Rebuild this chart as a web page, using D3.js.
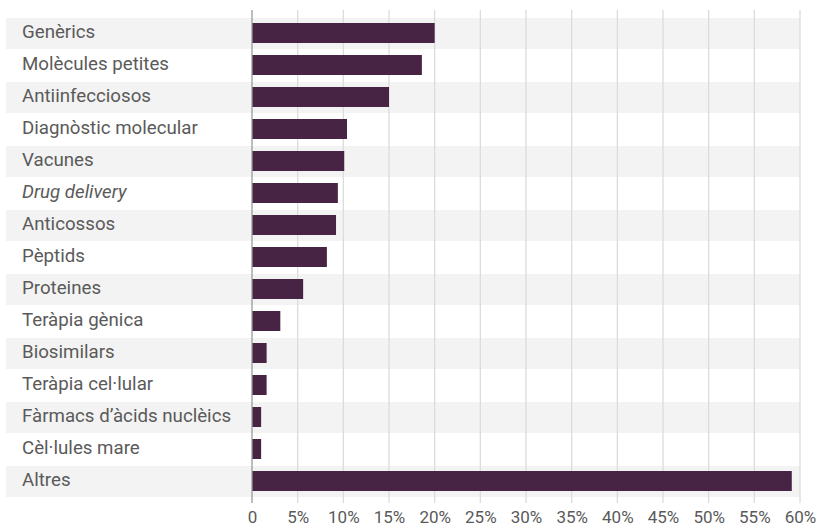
<!DOCTYPE html>
<html>
<head>
<meta charset="utf-8">
<script src="https://cdn.jsdelivr.net/npm/d3@7"></script>
<style>
  html, body { margin: 0; padding: 0; background: #fff; }
  svg { display: block; font-family: Roboto, "Noto Sans", sans-serif; }
</style>
</head>
<body>
<svg id="chart" width="823" height="526"></svg>
<script>
// Share of projects by technology type (%)
const categories = [
  "Genèrics", "Molècules petites", "Antiinfecciosos", "Diagnòstic molecular",
  "Vacunes", "Drug delivery", "Anticossos", "Pèptids", "Proteines",
  "Teràpia gènica", "Biosimilars", "Teràpia cel·lular",
  "Fàrmacs d’àcids nuclèics", "Cèl·lules mare", "Altres"
];
const values = [20.0, 18.6, 15.0, 10.4, 10.1, 9.4, 9.2, 8.2, 5.6, 3.1, 1.6, 1.6, 1.0, 1.0, 59.1];
const italicCategories = ["Drug delivery"];
const tickValues = [0, 5, 10, 15, 20, 25, 30, 35, 40, 45, 50, 55, 60];
const tickLabels = ["0", "5%", "10%", "15%", "20%", "25%", "30%", "35%", "40%", "45%", "50%", "55%", "60%"];

const svg = d3.select("#chart");
const plotLeft = 252, plotRight = 800, plotTop = 18, plotBottom = 498;

const x = d3.scaleLinear().domain([0, 60]).range([plotLeft, plotRight]);
const yRow = d3.scaleBand().domain(categories).range([plotTop, plotBottom]).padding(0);
const yBar = d3.scaleBand().domain(categories).range([plotTop - 1, plotBottom - 1])
  .paddingInner(0.375).paddingOuter(0.1875);

// alternating row bands
svg.append("g")
  .selectAll("rect")
  .data(categories.filter((d, i) => i % 2 === 0))
  .join("rect")
  .attr("x", 6)
  .attr("y", d => yRow(d))
  .attr("width", plotRight - 6)
  .attr("height", yRow.bandwidth() - 1)
  .attr("fill", "#f3f3f3");

// vertical gridlines
svg.append("g")
  .selectAll("line")
  .data(tickValues.filter(v => v > 0))
  .join("line")
  .attr("x1", d => x(d)).attr("x2", d => x(d))
  .attr("y1", 10).attr("y2", 503)
  .attr("stroke", "#dcdcdc")
  .attr("stroke-width", 1.3);

// bars
svg.append("g")
  .selectAll("rect")
  .data(categories)
  .join("rect")
  .attr("x", x(0))
  .attr("y", d => yBar(d))
  .attr("width", (d, i) => x(values[i]) - x(0))
  .attr("height", yBar.bandwidth())
  .attr("fill", "#482444");

// zero baseline
svg.append("line")
  .attr("x1", x(0)).attr("x2", x(0))
  .attr("y1", 10).attr("y2", 503)
  .attr("stroke", "#9a9a9a")
  .attr("stroke-width", 1.3);

// category labels
svg.append("g")
  .selectAll("text")
  .data(categories)
  .join("text")
  .attr("x", 22)
  .attr("y", d => yRow(d) + yRow.bandwidth() / 2 - 3)
  .attr("dy", "0.35em")
  .attr("font-size", 18.7)
  .attr("fill", "#5a5a5a")
  .attr("font-style", d => italicCategories.includes(d) ? "italic" : "normal")
  .text(d => d);

// x axis tick labels
const xAxis = d3.axisBottom(x)
  .tickValues(tickValues)
  .tickFormat((d, i) => tickLabels[i])
  .tickSize(0)
  .tickPadding(0);
const gx = svg.append("g")
  .attr("transform", `translate(0, ${511})`)
  .call(xAxis);
gx.select(".domain").remove();
gx.selectAll("text")
  .attr("font-family", "Roboto, 'Noto Sans', sans-serif")
  .attr("font-size", 17)
  .attr("fill", "#5a5a5a")
  .attr("dy", "0.71em");
</script>
</body>
</html>
